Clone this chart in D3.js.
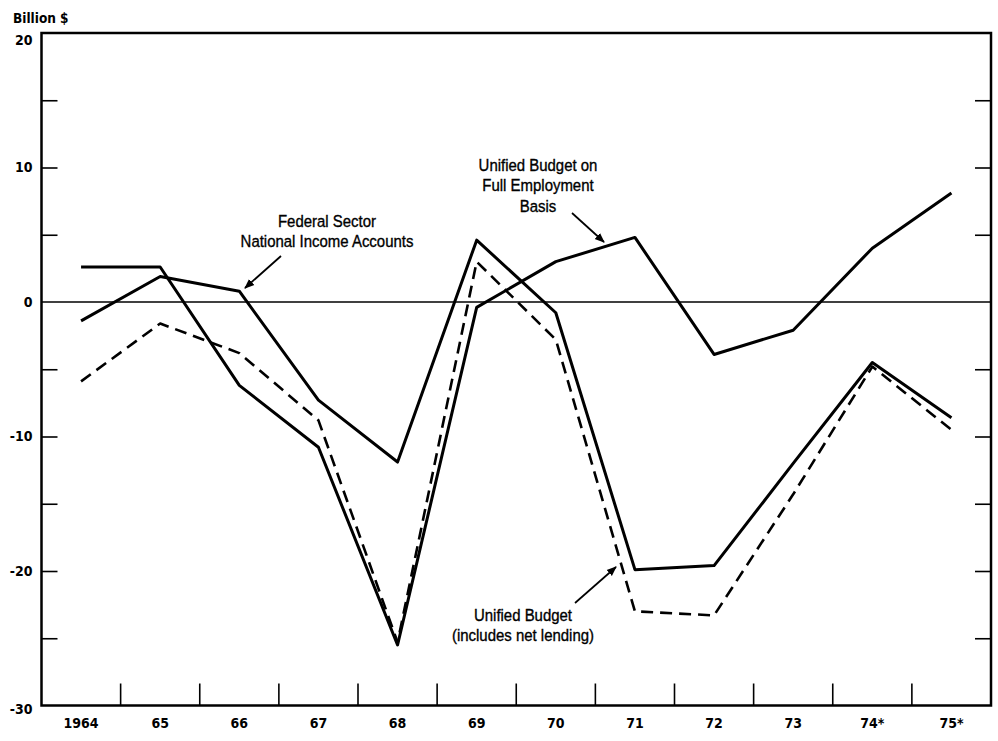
<!DOCTYPE html>
<html>
<head>
<meta charset="utf-8">
<script src="https://cdn.jsdelivr.net/npm/d3@7"></script>
<style>
  html, body { margin: 0; padding: 0; background: #fff; }
  svg { display: block; }
</style>
</head>
<body>
<svg id="chart" width="998" height="741"></svg>
<script>
// ---- data ----
const years = ["1964","65","66","67","68","69","70","71","72","73","74*","75*"];
const nationalIncomeAccounts = [-1.4, 1.9, 0.8, -7.3, -11.9, 4.6, -0.8, -19.9, -19.6, -12.0, -4.5, -8.6];
const fullEmploymentBudget   = [2.6, 2.6, -6.2, -10.8, -25.5, -0.4, 3.0, 4.8, -3.9, -2.1, 4.0, 8.1];
const unifiedBudget          = [-5.9, -1.6, -3.8, -8.8, -25.3, 3.0, -2.8, -23.0, -23.3, -14.3, -4.8, -9.5];
const yLabelValues = [20, 10, 0, -10, -20, -30];
const yMinorTicks = [15, 10, 5, -5, -10, -15, -20, -25];

const svg = d3.select("#chart");
const mLeft = 41.5, mRight = 991, mTop = 33, mBottom = 705.5;

const x = d3.scaleBand().domain(years).range([mLeft, mRight]).padding(0);
const y = d3.scaleLinear().domain([-30, 20]).range([mBottom, mTop]);
const cx = d => x(d) + x.bandwidth() / 2;

const labelFont = "'DejaVu Sans Condensed', 'DejaVu Sans', sans-serif";
const annFont = "'Liberation Sans Narrow', 'Liberation Sans', sans-serif";

// zero line
svg.append("line")
  .attr("x1", mLeft).attr("x2", mRight)
  .attr("y1", y(0)).attr("y2", y(0))
  .attr("stroke", "#000").attr("stroke-width", 1.6);

// left inward ticks
const leftAxis = svg.append("g").attr("transform", `translate(${mLeft},0)`)
  .call(d3.axisRight(y).tickValues(yMinorTicks).tickSize(16).tickFormat(""));
leftAxis.select(".domain").remove();
leftAxis.selectAll("line").attr("stroke", "#000").attr("stroke-width", 1.6);

// right inward ticks
const rightAxis = svg.append("g").attr("transform", `translate(${mRight},0)`)
  .call(d3.axisLeft(y).tickValues(yMinorTicks).tickSize(16).tickFormat(""));
rightAxis.select(".domain").remove();
rightAxis.selectAll("line").attr("stroke", "#000").attr("stroke-width", 1.6);

// y labels
const yLab = svg.append("g").attr("transform", `translate(${mLeft},0)`)
  .call(d3.axisLeft(y).tickValues(yLabelValues).tickSize(0).tickPadding(9).tickFormat(d => String(d)));
yLab.select(".domain").remove();
yLab.selectAll("text")
  .attr("font-family", labelFont).attr("font-weight", "bold")
  .attr("font-size", 14).attr("fill", "#000");
yLab.selectAll(".tick").filter(d => d === 20).select("text").attr("dy", "0.85em");
yLab.selectAll(".tick").filter(d => d === -30).select("text").attr("dy", "0.55em");

// bottom ticks at band boundaries
const boundaries = years.slice(1).map(d => x(d));
svg.append("g").selectAll("line").data(boundaries).join("line")
  .attr("x1", d => d).attr("x2", d => d)
  .attr("y1", mBottom).attr("y2", mBottom - 22)
  .attr("stroke", "#000").attr("stroke-width", 1.6);

// x labels
const xLab = svg.append("g").attr("transform", `translate(0,${mBottom})`)
  .call(d3.axisBottom(x).tickSize(0).tickPadding(13));
xLab.select(".domain").remove();
xLab.selectAll("text")
  .attr("font-family", labelFont).attr("font-weight", "bold")
  .attr("font-size", 14).attr("fill", "#000");

// frame
svg.append("rect")
  .attr("x", mLeft).attr("y", mTop)
  .attr("width", mRight - mLeft).attr("height", mBottom - mTop)
  .attr("fill", "none").attr("stroke", "#000").attr("stroke-width", 2.5);

// unit label
svg.append("text").attr("x", 13).attr("y", 23)
  .attr("font-family", labelFont).attr("font-weight", "bold")
  .attr("font-size", 13.5).attr("fill", "#000").text("Billion $");

// lines
const line = d3.line().x((d, i) => cx(years[i])).y(d => y(d));
svg.append("path").datum(nationalIncomeAccounts).attr("d", line)
  .attr("fill", "none").attr("stroke", "#000").attr("stroke-width", 3).attr("stroke-linejoin", "round");
svg.append("path").datum(fullEmploymentBudget).attr("d", line)
  .attr("fill", "none").attr("stroke", "#000").attr("stroke-width", 3).attr("stroke-linejoin", "round");
svg.append("path").datum(unifiedBudget).attr("d", line)
  .attr("fill", "none").attr("stroke", "#000").attr("stroke-width", 2.6)
  .attr("stroke-dasharray", "12,7").attr("stroke-linejoin", "round");

// arrow marker
svg.append("defs").append("marker")
  .attr("id", "arr").attr("viewBox", "0 0 10 10").attr("refX", 9).attr("refY", 5)
  .attr("markerWidth", 10).attr("markerHeight", 10).attr("markerUnits", "userSpaceOnUse")
  .attr("orient", "auto")
  .append("path").attr("d", "M0,1 L10,5 L0,9 Z").attr("fill", "#000");

// annotations
const annotations = [
  { lines: ["Federal Sector", "National Income Accounts"], x: 327, y: 221, ax1: 281, ay1: 256, ax2: 245, ay2: 288 },
  { lines: ["Unified Budget on", "Full Employment", "Basis"], x: 538, y: 165, ax1: 572, ay1: 213, ax2: 604, ay2: 242 },
  { lines: ["Unified Budget", "(includes net lending)"], x: 523, y: 615, ax1: 575, ay1: 603, ax2: 616, ay2: 567 }
];
annotations.forEach(a => {
  const g = svg.append("g").attr("transform", `translate(${a.x},${a.y}) scale(0.88,1)`);
  const t = g.append("text")
    .attr("font-family", annFont).attr("font-size", 17).attr("fill", "#000")
    .attr("stroke", "#000").attr("stroke-width", 0.35)
    .attr("text-anchor", "middle");
  a.lines.forEach((s, i) => {
    t.append("tspan").attr("x", 0).attr("y", 6 + i * 20.5).text(s);
  });
  svg.append("line")
    .attr("x1", a.ax1).attr("y1", a.ay1).attr("x2", a.ax2).attr("y2", a.ay2)
    .attr("stroke", "#000").attr("stroke-width", 1.7).attr("marker-end", "url(#arr)");
});
</script>
</body>
</html>
